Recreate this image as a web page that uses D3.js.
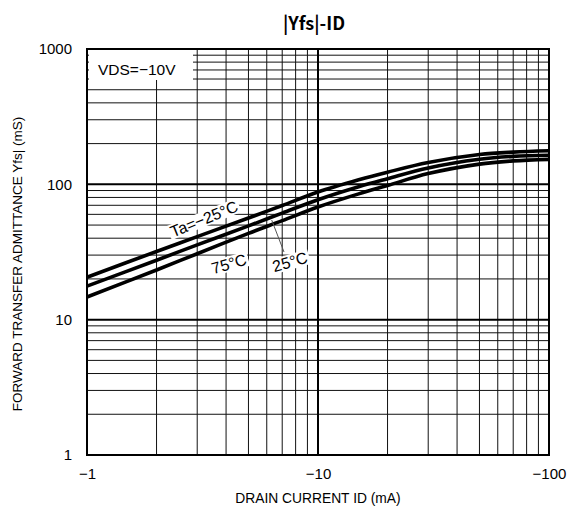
<!DOCTYPE html>
<html>
<head>
<meta charset="utf-8">
<script src="https://cdn.jsdelivr.net/npm/d3@7"></script>
<style>
  body { margin: 0; background: #fff; }
  text { font-family: "Liberation Sans", Arial, sans-serif; }
</style>
</head>
<body>
<svg id="chart"></svg>
<script>
// |ID| in mA (plotted as negative values)
const drainCurrent = [1, 2, 3, 5, 7, 10, 15, 20, 30, 50, 70, 100];
const yfsMinus25 = [20.6, 31.9, 41.1, 56.4, 69.7, 87.7, 108, 123, 145, 166, 173, 177];
const yfs25 = [17.7, 27.5, 35.7, 49.3, 61.3, 77, 96, 110, 132, 153, 161, 164];
const yfs75 = [14.7, 23.3, 30.7, 43.4, 53.9, 68, 85, 98, 120, 141, 149, 153];
const xTicks = [1, 10, 100];
const xTickLabels = ["\u22121", "\u221210", "\u2212100"];
const yTicks = [1, 10, 100, 1000];

const svgWidth = 569;
const svgHeight = 511;
const margin = { top: 49, right: 20, bottom: 56, left: 87 };
const width = 549 - margin.left;
const height = 455 - margin.top;

const svg = d3.select("#chart").attr("width", svgWidth).attr("height", svgHeight);
const g = svg.append("g").attr("transform", `translate(${margin.left},${margin.top})`);

const x = d3.scaleLog().domain([1, 100]).range([0, width]);
const y = d3.scaleLog().domain([1, 1000]).range([height, 0]);

// minor + major grid
const minorX = [];
for (let d = 1; d < 100; d *= 10) for (let k = 2; k <= 9; k++) minorX.push(d * k);
const minorY = [];
for (let d = 1; d < 1000; d *= 10) for (let k = 2; k <= 9; k++) minorY.push(d * k);

g.selectAll(".gx").data(minorX).enter().append("line")
  .attr("x1", d => x(d)).attr("x2", d => x(d))
  .attr("y1", 0).attr("y2", height)
  .attr("stroke", "#111").attr("stroke-width", 1);
g.selectAll(".gy").data(minorY).enter().append("line")
  .attr("y1", d => y(d)).attr("y2", d => y(d))
  .attr("x1", 0).attr("x2", width)
  .attr("stroke", "#111").attr("stroke-width", 1);

g.selectAll(".mx").data([10]).enter().append("line")
  .attr("x1", d => x(d)).attr("x2", d => x(d))
  .attr("y1", 0).attr("y2", height)
  .attr("stroke", "#000").attr("stroke-width", 2);
g.selectAll(".my").data([10, 100]).enter().append("line")
  .attr("y1", d => y(d)).attr("y2", d => y(d))
  .attr("x1", 0).attr("x2", width)
  .attr("stroke", "#000").attr("stroke-width", 2);

// VDS box
g.append("rect").attr("x", 2).attr("y", 1).attr("width", 104).attr("height", 30).attr("fill", "#fff");
g.append("text").attr("x", 11).attr("y", 26).attr("font-size", 15.5).text("VDS=\u221210V");

// curves
const line = d3.line()
  .x((d, i) => x(drainCurrent[i]))
  .y(d => y(d))
  .curve(d3.curveCatmullRom.alpha(0.5));

[yfsMinus25, yfs25, yfs75].forEach(s => {
  g.append("path").datum(s)
    .attr("d", line)
    .attr("fill", "none")
    .attr("stroke", "#000")
    .attr("stroke-width", 3.6);
});

// leader line for 25°C
g.append("line")
  .attr("x1", 271.7 - margin.left).attr("y1", 220 - margin.top)
  .attr("x2", 284 - margin.left).attr("y2", 252 - margin.top)
  .attr("stroke", "#555").attr("stroke-width", 1);

// curve labels with white background
const labels = [
  { text: "Ta=\u221225\u00b0C", cx: 204, cy: 219, angle: -22 },
  { text: "75\u00b0C", cx: 229, cy: 264, angle: -16 },
  { text: "25\u00b0C", cx: 290, cy: 262, angle: -16 }
];
labels.forEach(l => {
  const lg = g.append("g")
    .attr("transform", `translate(${l.cx - margin.left},${l.cy - margin.top}) rotate(${l.angle})`);
  const t = lg.append("text")
    .attr("text-anchor", "middle")
    .attr("dominant-baseline", "central")
    .attr("font-size", 16)
    .text(l.text);
  const bb = t.node().getBBox();
  lg.insert("rect", ":first-child")
    .attr("x", bb.x - 2).attr("y", bb.y + 1)
    .attr("width", bb.width + 4).attr("height", bb.height - 2)
    .attr("fill", "#fff");
});

// frame
g.append("rect").attr("width", width).attr("height", height)
  .attr("fill", "none").attr("stroke", "#000").attr("stroke-width", 2);

// axes labels
const xAxis = g.append("g").attr("transform", `translate(0,${height})`)
  .call(d3.axisBottom(x).tickValues(xTicks).tickSize(0).tickPadding(13)
    .tickFormat((d, i) => xTickLabels[i]));
xAxis.select(".domain").remove();
xAxis.selectAll("text").attr("font-size", 15).attr("font-family", "Liberation Sans, Arial, sans-serif").attr("fill", "#000");

const yAxis = g.append("g")
  .call(d3.axisLeft(y).tickValues(yTicks).tickSize(0).tickPadding(15)
    .tickFormat(d3.format("d")));
yAxis.select(".domain").remove();
yAxis.selectAll("text").attr("font-size", 15).attr("font-family", "Liberation Sans, Arial, sans-serif").attr("fill", "#000");

svg.append("text")
  .attr("x", margin.left + x(10)).attr("y", 503)
  .attr("text-anchor", "middle").attr("font-size", 13.8)
  .text("DRAIN CURRENT ID (mA)");

svg.append("text")
  .attr("transform", "translate(22,264) rotate(-90)")
  .attr("text-anchor", "middle").attr("font-size", 13.5)
  .text("FORWARD TRANSFER ADMITTANCE Yfs| (mS)");

svg.append("text")
  .attr("x", 314).attr("y", 30)
  .attr("text-anchor", "middle").attr("font-size", 18).attr("font-weight", "bold")
  .style("font-family", "'Noto Sans CJK JP', sans-serif")
  .text("|Yfs|-ID");
</script>
</body>
</html>
